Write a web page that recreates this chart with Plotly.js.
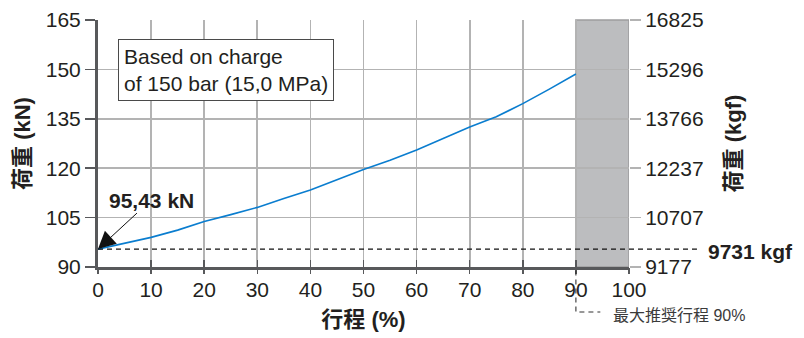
<!DOCTYPE html>
<html>
<head>
<meta charset="utf-8">
<script src="https://cdn.plot.ly/plotly-3.0.1.min.js"></script>
<style>html,body{margin:0;padding:0;background:#fff;}#chart{width:804px;height:338px;}</style>
</head>
<body>
<div id="chart"></div>
<script>
// Stroke (%) and load (kN)
const strokePct = [0, 5, 10, 15, 20, 25, 30, 35, 40, 45, 50, 55, 60, 65, 70, 75, 80, 85, 90];
const loadKN = [95.43, 97.2, 99.0, 101.2, 103.8, 105.9, 108.1, 110.8, 113.4, 116.5, 119.6, 122.4, 125.5, 129.0, 132.5, 135.6, 139.6, 144.0, 148.6];

const kNTicks = [90, 105, 120, 135, 150, 165];
const kgfTicks = [9177, 10707, 12237, 13766, 15296, 16825];
const xTicks = [0, 10, 20, 30, 40, 50, 60, 70, 80, 90, 100];

const startLoadKN = 95.43;
const startLoadKgf = 9731;
const maxStroke = 90;
const fullStroke = 100;

const FONT = 'Liberation Sans, Arial, Noto Sans CJK JP, sans-serif';
const DARK = '#231f20';
const GRID = '#b3b3b3';
const AXIS = '#58595b';

const trace = {
  x: strokePct,
  y: loadKN,
  type: 'scatter',
  mode: 'lines',
  line: {color: '#0a7dcf', width: 1.6},
  hoverinfo: 'skip',
  showlegend: false
};

// empty trace so that the secondary axes (kgf scale, outer x ticks) are created and drawn
const kgfAxisTrace = {
  x: [null],
  y: [null],
  xaxis: 'x2',
  yaxis: 'y2',
  type: 'scatter',
  mode: 'lines',
  hoverinfo: 'skip',
  showlegend: false
};

const layout = {
  width: 804,
  height: 338,
  margin: {l: 98, r: 175, t: 20, b: 71},
  paper_bgcolor: '#fff',
  plot_bgcolor: '#fff',
  font: {family: FONT, size: 21, color: DARK},
  showlegend: false,
  xaxis: {
    range: [0, fullStroke],
    tickvals: xTicks,
    ticktext: xTicks.map(String),
    showgrid: true,
    gridcolor: GRID,
    gridwidth: 1.6,
    zeroline: false,
    showline: true,
    linecolor: AXIS,
    linewidth: 3,
    ticks: 'inside',
    ticklen: 7,
    tickwidth: 1.5,
    tickcolor: AXIS,
    ticklabelstandoff: 2,
    tickfont: {family: FONT, size: 21, color: DARK},
    title: {text: '<b>行程 (%)</b>', font: {family: FONT, size: 22, color: DARK}, standoff: 12}
  },
  xaxis2: {
    overlaying: 'x',
    anchor: 'y',
    side: 'bottom',
    range: [0, fullStroke],
    tickvals: xTicks,
    showticklabels: false,
    showgrid: false,
    zeroline: false,
    showline: false,
    ticks: 'outside',
    ticklen: 6,
    tickwidth: 1.5,
    tickcolor: AXIS
  },
  yaxis: {
    range: [kNTicks[0], kNTicks[kNTicks.length - 1]],
    tickvals: kNTicks,
    ticktext: kNTicks.map(String),
    showgrid: true,
    gridcolor: GRID,
    gridwidth: 1.6,
    zeroline: false,
    showline: true,
    linecolor: AXIS,
    linewidth: 3,
    ticks: 'outside',
    ticklen: 10,
    tickwidth: 1.5,
    tickcolor: AXIS,
    tickfont: {family: FONT, size: 21, color: DARK},
    title: {text: '<b>荷重 (kN)</b>', font: {family: FONT, size: 22, color: DARK}, standoff: 10}
  },
  yaxis2: {
    overlaying: 'y',
    side: 'right',
    anchor: 'x2',
    range: [kgfTicks[0], kgfTicks[kgfTicks.length - 1]],
    tickvals: kgfTicks,
    ticktext: kgfTicks.map(String),
    showgrid: false,
    zeroline: false,
    showline: false,
    ticks: 'outside',
    ticklen: 11,
    tickwidth: 1.6,
    tickcolor: GRID,
    tickfont: {family: FONT, size: 21, color: DARK},
    title: {text: '<b>荷重 (kgf)</b>', font: {family: FONT, size: 22, color: DARK}, standoff: 22}
  },
  shapes: [
    {
      type: 'rect', layer: 'between',
      xref: 'x', yref: 'paper',
      x0: maxStroke, x1: fullStroke, y0: 0, y1: 1,
      fillcolor: '#bcbdbf',
      line: {color: '#9d9d9f', width: 1.6}
    },
    {
      type: 'line', layer: 'above',
      xref: 'paper', yref: 'y',
      x0: 0, x1: 1.128, y0: startLoadKN, y1: startLoadKN,
      line: {color: '#111', width: 1.1, dash: '5px,4px'}
    },
    {
      type: 'path', layer: 'above',
      xref: 'paper', yref: 'paper',
      path: 'M ' + (maxStroke / fullStroke) + ',-0.014 L ' + (maxStroke / fullStroke) + ',-0.182 L 0.946,-0.182',
      line: {color: '#333', width: 1.1, dash: '5px,4px'}
    }
  ],
  annotations: [
    {
      xref: 'paper', yref: 'paper',
      x: 0.037, y: 0.922, xanchor: 'left', yanchor: 'top',
      text: 'Based on charge<br>of 150 bar (15,0 MPa)',
      align: 'left',
      showarrow: false,
      font: {family: FONT, size: 21, color: DARK},
      bgcolor: '#fff',
      bordercolor: '#4a4a4a',
      borderwidth: 1,
      borderpad: 5
    },
    {
      xref: 'x', yref: 'y',
      x: strokePct[0], y: startLoadKN,
      text: '<b>' + startLoadKN.toFixed(2).replace('.', ',') + ' kN</b>',
      showarrow: true,
      arrowhead: 2,
      arrowsize: 3.5,
      arrowwidth: 1,
      arrowcolor: '#111',
      ax: 53, ay: -49,
      font: {family: FONT, size: 21, color: DARK}
    },
    {
      xref: 'paper', yref: 'y',
      x: 1.145, y: startLoadKN, xanchor: 'left', yanchor: 'middle', yshift: -2,
      text: '<b>' + startLoadKgf + ' kgf</b>',
      showarrow: false,
      font: {family: FONT, size: 21, color: DARK}
    },
    {
      xref: 'x', yref: 'paper',
      x: 96.7, y: -0.198, xanchor: 'left', yanchor: 'middle',
      text: '最大推奨行程 ' + maxStroke + '%',
      showarrow: false,
      font: {family: FONT, size: 16, color: '#3a3a3a'}
    }
  ]
};

Plotly.newPlot('chart', [trace, kgfAxisTrace], layout, {staticPlot: true, displayModeBar: false});
</script>
</body>
</html>
